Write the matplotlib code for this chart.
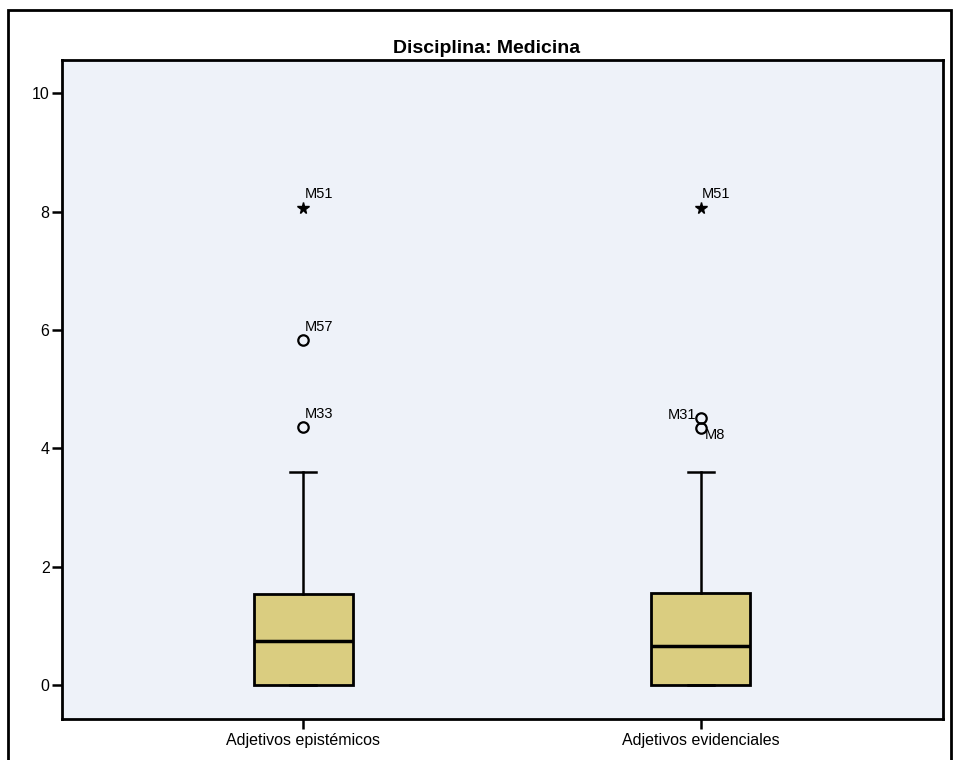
import matplotlib
matplotlib.use('Agg')
import matplotlib.pyplot as plt
from matplotlib.patches import Rectangle

plt.rcParams['font.family'] = ['Liberation Sans', 'DejaVu Sans']

# data
categories = ['Adjetivos epistémicos', 'Adjetivos evidenciales']
q1 = [0.0, 0.0]
medians = [0.74, 0.66]
q3 = [1.54, 1.55]
whislo = [0.0, 0.0]
whishi = [3.6, 3.6]

# outliers: circles (mild) and stars (extreme)
mild_pos = [1, 1, 2, 2]
mild_vals = [5.83, 4.36, 4.51, 4.34]
mild_labels = ['M57', 'M33', 'M31', 'M8']
extreme_pos = [1, 2]
extreme_vals = [8.06, 8.06]
extreme_labels = ['M51', 'M51']

bg_color = '#eef2f9'
box_color = '#dacd80'

fig = plt.figure(figsize=(9.54, 7.6), dpi=100)
ax = fig.add_axes([0.065, 0.054, 0.9235, 0.867])
ax.set_facecolor(bg_color)

stats = []
for i in range(len(categories)):
    stats.append({'med': medians[i], 'q1': q1[i], 'q3': q3[i],
                  'whislo': whislo[i], 'whishi': whishi[i], 'fliers': []})

ax.bxp(stats, positions=[1, 2], widths=0.25, showfliers=False, patch_artist=True,
       boxprops=dict(facecolor=box_color, edgecolor='black', linewidth=2),
       medianprops=dict(color='black', linewidth=2.5),
       whiskerprops=dict(color='black', linewidth=1.8),
       capprops=dict(color='black', linewidth=1.8), capwidths=0.065)

ax.plot(mild_pos, mild_vals, 'o', markersize=7.5, markerfacecolor='none',
        markeredgecolor='black', markeredgewidth=1.6)
ax.plot(extreme_pos, extreme_vals, '*', markersize=8.5, color='black')

# outlier labels
offsets = {'M57': (1, 4, 'left', 'bottom'), 'M33': (1, 4, 'left', 'bottom'),
           'M31': (-3, 2, 'right', 'center'), 'M8': (3, -5, 'left', 'center'),
           'M51': (1, 5, 'left', 'bottom')}
for x, y, lab in zip(mild_pos + extreme_pos, mild_vals + extreme_vals,
                     mild_labels + extreme_labels):
    dx, dy, ha, va = offsets[lab]
    ax.annotate(lab, (x, y), xytext=(dx, dy), textcoords='offset points',
                ha=ha, va=va, fontsize=10.5)

ax.set_xlim(0.393, 2.61)
ax.set_ylim(-0.574, 10.56)
ax.set_yticks([0, 2, 4, 6, 8, 10])
ax.set_xticks([1, 2])
ax.set_xticklabels(categories, fontsize=11.5)
ax.tick_params(axis='y', labelsize=11.5, length=7, width=1.8, direction='out', pad=2)
ax.tick_params(axis='x', length=7, width=1.8, direction='out', pad=3)
for s in ax.spines.values():
    s.set_linewidth(2)

fig.text(0.5105, 0.93, 'Disciplina: Medicina', fontsize=14, fontweight='bold',
         ha='center', va='baseline')

# outer frame around the whole chart
fig.add_artist(Rectangle((0.008, -0.02), 0.989, 1.007, transform=fig.transFigure,
                         fill=False, edgecolor='black', linewidth=2))

fig.savefig('out.png', dpi=100)
